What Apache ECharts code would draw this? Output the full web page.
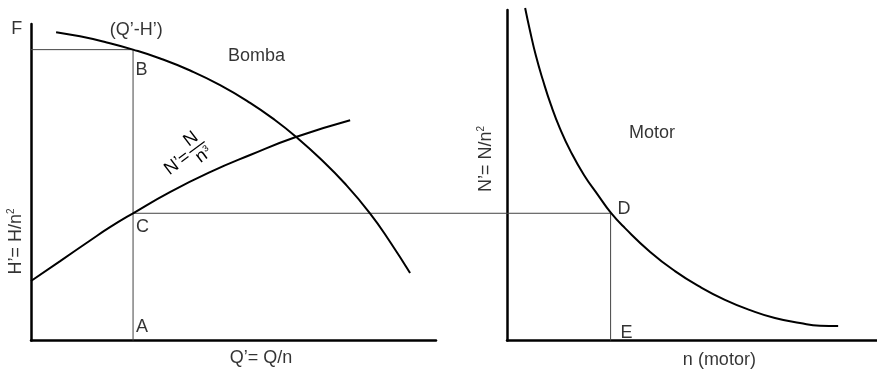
<!DOCTYPE html>
<html><head><meta charset="utf-8">
<script src="https://cdn.jsdelivr.net/npm/echarts@6/dist/echarts.min.js"></script>
<style>html,body{margin:0;padding:0;background:#fff}#c{width:877px;height:369px}</style>
</head><body><div id="c"></div>
<script>
// Pump curve (Q'-H')  — left panel
const pumpQ = [6.2,12.1,18.3,25.2,31.9,39.3,46.7,54.1,60.3,65.4,71.4,77.5,83.7,88.6,93.6];
const pumpH = [97.4,96.1,94.3,91.9,89.1,85.3,80.7,75.1,69.6,64.4,57.5,49.6,40.2,31.3,21.3];
// Power curve N' = N/n^3 — left panel
const powerQ = [0,7.2,14.6,19.5,25.2,34.3,44.2,54.1,65.4,78.8];
const powerN = [18.8,25.1,31.6,35.8,40.2,46.9,53.2,58.6,64.3,69.6];
// Motor curve — right panel
const motorSpeed = [4.9,6.2,7.8,9.7,11.9,14.3,17.3,20.8,24.6,28.1,31.9,38.7,45.4,52.2,58.9,65.7,72.4,79.2,84.6,89.5];
const motorPower = [100.6,93.8,86.2,78.8,71.2,64.2,57.0,50.1,44.0,38.6,34.0,26.8,21.0,16.2,12.3,9.2,6.8,5.3,4.5,4.4];
// Operating points
const pointB = [25.2, 91.9];
const pointC = [25.2, 40.2];
const pointD = [28.0, 38.5];
// Texts
const leftTexts = ['F', '(Q’-H’)', 'B', 'Bomba', 'C', 'A', 'Q’= Q/n', 'H’= H/n{sup|2}'];
const rightTexts = ['Motor', 'D', 'E', 'n (motor)', 'N’= N/n{sup|2}'];

const FONT = "'Liberation Sans', Arial, sans-serif";
const INK = '#000';

// label anchors (data coordinates of each panel)
const leftAnchors = [[-3.5,98.4],[26.0,98.1],[27.3,85.6],[55.7,89.9],[27.5,35.9],[27.4,4.1],[56.8,-5.4],[-3.8,31.3]];
const leftRot = [0,0,0,0,0,0,0,90];
const rightAnchors = [[39.2,62.9],[31.6,39.9],[32.3,2.3],[57.4,-5.8],[-5.8,54.9]];
const rightRot = [0,0,0,0,90];
const fracAnchor = [40.9, 61.0];

function zip(a, b) { return a.map((v, i) => [v, b[i]]); }
function labelData(texts, anchors, rots) {
  return texts.map((t, i) => ({ value: anchors[i], label: { formatter: t, rotate: rots[i] } }));
}
const axisLine = { show: true, onZero: false, lineStyle: { color: '#000', width: 2.5 } };
function ax(gi) {
  return { gridIndex: gi, type: 'value', min: 0, max: 100, axisLine: axisLine,
    axisTick: { show: false }, axisLabel: { show: false }, splitLine: { show: false } };
}
const curveStyle = { color: '#000', width: 2 };
const thinStyle = { color: '#444', width: 1 };
const labelStyle = { show: true, position: 'inside', color: INK, fontSize: 18, fontFamily: FONT,
  rich: { sup: { fontSize: 10, fontFamily: FONT, color: INK, padding: [0, 0, 9, 0] } } };

const option = {
  animation: false,
  backgroundColor: '#fff',
  grid: [
    { left: 31, top: 24, width: 405, height: 316.5 },
    { left: 507, top: 10, width: 370, height: 330.5 }
  ],
  xAxis: [ax(0), ax(1)],
  yAxis: [ax(0), ax(1)],
  series: [
    { type: 'line', name: 'guideB', xAxisIndex: 0, yAxisIndex: 0, symbol: 'none', lineStyle: thinStyle,
      data: [[0, pointB[1]], pointB, [pointB[0], 0]] },
    { type: 'line', name: 'guideE', xAxisIndex: 1, yAxisIndex: 1, symbol: 'none', lineStyle: thinStyle,
      data: [pointD, [pointD[0], 0]] },
    { type: 'line', name: 'Bomba', xAxisIndex: 0, yAxisIndex: 0, symbol: 'none', smooth: 0.5, lineStyle: curveStyle,
      data: zip(pumpQ, pumpH) },
    { type: 'line', name: 'Potencia', xAxisIndex: 0, yAxisIndex: 0, symbol: 'none', smooth: 0.5, lineStyle: curveStyle,
      data: zip(powerQ, powerN) },
    { type: 'line', name: 'Motor', xAxisIndex: 1, yAxisIndex: 1, symbol: 'none', smooth: 0.5, clip: false, lineStyle: curveStyle,
      data: zip(motorSpeed, motorPower) },
    { type: 'scatter', xAxisIndex: 0, yAxisIndex: 0, symbolSize: 1, clip: false, silent: true,
      itemStyle: { color: 'rgba(0,0,0,0)' }, label: labelStyle, data: labelData(leftTexts, leftAnchors, leftRot) },
    { type: 'scatter', xAxisIndex: 1, yAxisIndex: 1, symbolSize: 1, clip: false, silent: true,
      itemStyle: { color: 'rgba(0,0,0,0)' }, label: labelStyle, data: labelData(rightTexts, rightAnchors, rightRot) }
  ]
};

const chart = echarts.init(document.getElementById('c'), null, { renderer: 'canvas' });
chart.setOption(option);

// connector C -> D across both panels, placed through the two grids' scales
const cPx = chart.convertToPixel({ gridIndex: 0 }, pointC);
const dPx = chart.convertToPixel({ gridIndex: 1 }, pointD);
const fPx = chart.convertToPixel({ gridIndex: 0 }, fracAnchor);
const ts = (t, x, y, align, va, size) => ({ type: 'text', x: x, y: y,
  style: { text: t, fill: INK, fontSize: size, fontFamily: FONT, align: align, verticalAlign: va } });
chart.setOption({
  graphic: [
    { type: 'line', silent: true, shape: { x1: cPx[0], y1: cPx[1], x2: dPx[0], y2: cPx[1] },
      style: { stroke: '#444', lineWidth: 1 }, z: 1 },
    {
      type: 'group', x: fPx[0], y: fPx[1], rotation: 37 * Math.PI / 180, silent: true,
      children: [
        ts('N’=', -11, 1, 'right', 'middle', 18),
        { type: 'line', shape: { x1: -9, y1: 0, x2: 10, y2: 0 }, style: { stroke: INK, lineWidth: 1.2 } },
        ts('N', 0.5, -1, 'center', 'bottom', 18),
        ts('n', -1.5, 1, 'center', 'top', 18),
        ts('3', 4, 2, 'left', 'top', 9)
      ]
    }
  ]
});
</script></body></html>
